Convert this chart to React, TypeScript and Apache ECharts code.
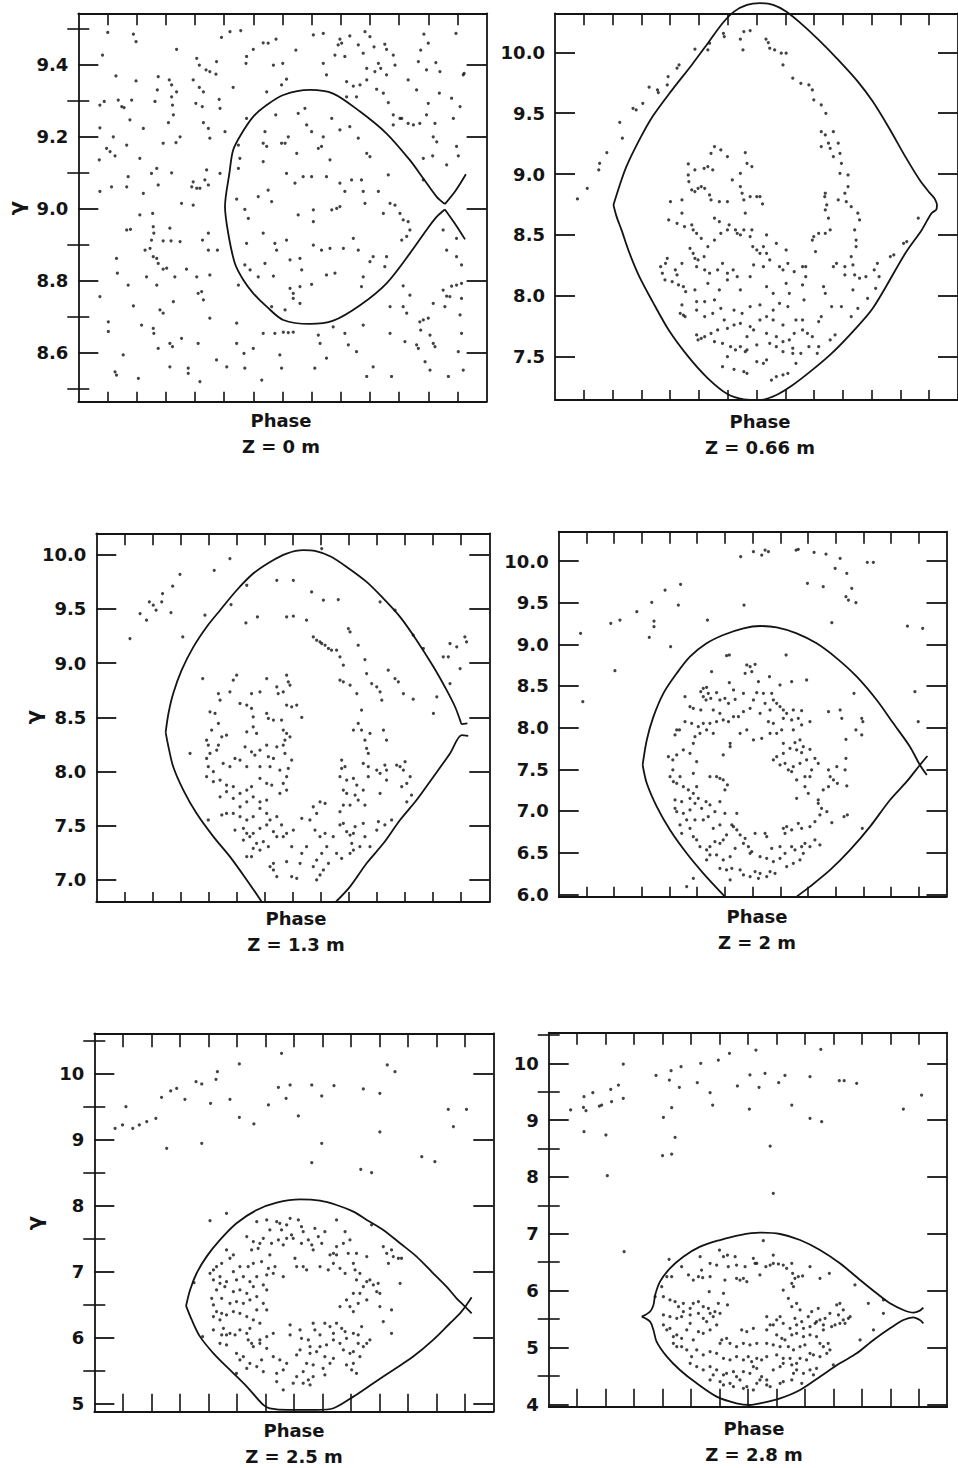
import { useEffect, useRef } from "react";
import * as echarts from "echarts";

// ---------- tick labels / categories ----------
const phaseTicks = [1, 2, 3, 4, 5, 6, 7, 8, 9, 10, 11, 12, 13];
const zLabels = ["Z = 0 m", "Z = 0.66 m", "Z = 1.3 m", "Z = 2 m", "Z = 2.5 m", "Z = 2.8 m"];
const gammaLabel = "γ";
const phaseLabel = "Phase";

const p1Major = [8.6, 8.8, 9.0, 9.2, 9.4];
const p1Minor = [8.5, 8.7, 8.9, 9.1, 9.3, 9.5];
const p2Major = [7.5, 8.0, 8.5, 9.0, 9.5, 10.0];
const p3Major = [7.0, 7.5, 8.0, 8.5, 9.0, 9.5, 10.0];
const p4Major = [6.0, 6.5, 7.0, 7.5, 8.0, 8.5, 9.0, 9.5, 10.0];
const p5Major = [5, 6, 7, 8, 9, 10];
const p5Minor = [5.5, 6.5, 7.5, 8.5, 9.5, 10.5];
const p6Major = [4, 5, 6, 7, 8, 9, 10];
const p6Minor = [4.5, 5.5, 6.5, 7.5, 8.5, 9.5, 10.5];

const p1Range = [8.463, 9.542];
const p2Range = [7.144, 10.32];
const p3Range = [6.797, 10.196];
const p4Range = [5.971, 10.352];
const p5Range = [4.872, 10.618];
const p6Range = [3.958, 10.539];

// ---------- separatrices ----------
const p1SepLoop = [[12.57,9.012],[12.29,9.032],[11.83,9.083],[11.37,9.134],[10.57,9.208],[9.66,9.269],[8.74,9.319],[7.94,9.329],[7.03,9.315],[6.46,9.287],[6.0,9.255],[5.6,9.208],[5.31,9.162],[5.18,9.097],[5.03,9.005],[5.14,8.931],[5.37,8.847],[5.66,8.801],[6.0,8.764],[6.46,8.727],[7.03,8.69],[7.94,8.679],[8.74,8.688],[9.66,8.731],[10.57,8.792],[11.37,8.875],[11.94,8.94],[12.29,8.977],[12.57,8.997]];
const p1SepUpperTip = [[12.57,9.012],[12.91,9.046],[13.29,9.095]];
const p1SepLowerTip = [[12.57,8.997],[12.91,8.958],[13.26,8.914]];

const p2SepUpper = [[2.03,8.746],[2.25,8.91],[2.48,9.061],[2.93,9.28],[3.39,9.472],[4.07,9.691],[4.75,9.896],[5.31,10.074],[5.82,10.238],[6.22,10.334],[6.67,10.389],[7.12,10.403],[7.58,10.389],[8.03,10.334],[8.6,10.225],[9.16,10.101],[9.84,9.937],[10.52,9.759],[11.04,9.595],[11.61,9.376],[12.17,9.143],[12.67,8.951],[13.01,8.847],[13.18,8.801],[13.27,8.754]];
const p2SepLower = [[13.27,8.754],[13.25,8.71],[13.08,8.678],[12.74,8.541],[12.17,8.349],[11.04,7.897],[10.29,7.692],[9.61,7.527],[8.94,7.391],[8.26,7.267],[7.69,7.185],[7.12,7.144],[6.56,7.15],[5.99,7.193],[5.31,7.322],[4.63,7.5],[3.95,7.719],[3.39,7.952],[2.93,8.157],[2.59,8.349],[2.31,8.541],[2.14,8.65],[2.03,8.746]];

const p3SepLeft = [[5.89,6.8],[5.36,7.0],[4.76,7.215],[4.17,7.4],[3.57,7.615],[3.1,7.829],[2.74,8.044],[2.57,8.228],[2.47,8.36]];
const p3SepUpper = [[2.47,8.36],[2.57,8.535],[2.74,8.719],[3.04,8.934],[3.46,9.149],[3.93,9.333],[4.41,9.487],[5.0,9.671],[5.59,9.825],[6.19,9.932],[6.78,10.009],[7.38,10.04],[7.79,10.033],[8.33,9.984],[8.92,9.886],[9.63,9.748],[10.23,9.594],[10.82,9.426],[11.41,9.211],[12.01,8.965],[12.48,8.75],[12.78,8.597],[12.96,8.474],[13.02,8.437],[13.22,8.443]];
const p3SepRight = [[13.25,8.329],[13.02,8.336],[12.6,8.167],[12.01,7.952],[11.41,7.737],[10.82,7.553],[10.23,7.338],[9.63,7.154],[9.04,6.939],[8.54,6.8]];

const p4SepUpper = [[3.03,7.552],[3.18,7.852],[3.42,8.132],[3.78,8.412],[4.26,8.652],[4.74,8.852],[5.34,9.012],[5.94,9.112],[6.67,9.192],[7.27,9.22],[7.87,9.204],[8.59,9.132],[9.31,9.012],[10.04,8.832],[10.76,8.612],[11.48,8.332],[12.08,8.052],[12.68,7.772],[13.04,7.552],[13.29,7.432]];
const p4SepLeft = [[3.03,7.552],[3.18,7.332],[3.54,7.052],[4.02,6.772],[4.62,6.492],[5.22,6.252],[6.0,5.972]];
const p4SepRight = [[8.59,5.972],[9.07,6.092],[9.8,6.292],[10.52,6.532],[11.24,6.812],[11.96,7.132],[12.56,7.352],[13.04,7.552],[13.31,7.66]];

const p5SepUpper = [[3.22,6.478],[3.36,6.721],[3.59,6.974],[3.94,7.227],[4.41,7.48],[4.99,7.733],[5.7,7.935],[6.4,8.047],[7.22,8.097],[7.92,8.077],[8.5,8.011],[9.09,7.91],[9.56,7.784],[10.14,7.632],[10.73,7.429],[11.31,7.227],[11.89,6.974],[12.36,6.771],[12.71,6.594],[13.01,6.468],[13.24,6.366]];
const p5SepLower = [[3.22,6.478],[3.42,6.265],[3.71,6.012],[4.18,5.759],[4.76,5.506],[5.35,5.253],[5.93,4.975],[6.16,4.924],[6.8,4.899],[7.8,4.899],[8.39,4.924],[9.09,5.101],[9.79,5.304],[10.49,5.506],[11.19,5.709],[11.89,5.962],[12.48,6.215],[12.83,6.366],[13.06,6.493],[13.24,6.609]];

const p6SepUpper = [[3.27,5.542],[3.56,5.63],[3.68,5.748],[3.74,5.924],[3.91,6.158],[4.26,6.393],[4.73,6.598],[5.32,6.774],[6.02,6.891],[6.72,6.979],[7.42,7.02],[8.13,6.997],[8.83,6.891],[9.53,6.715],[10.23,6.481],[10.94,6.187],[11.52,5.953],[11.99,5.777],[12.46,5.66],[12.81,5.613],[13.04,5.648],[13.16,5.701]];
const p6SepLower = [[3.27,5.542],[3.56,5.454],[3.68,5.308],[3.79,5.102],[4.15,4.838],[4.61,4.604],[5.2,4.369],[5.9,4.135],[6.6,4.017],[7.07,3.988],[7.42,4.017],[8.13,4.105],[8.83,4.252],[9.53,4.487],[10.23,4.721],[10.82,4.897],[11.41,5.132],[11.99,5.337],[12.46,5.484],[12.81,5.531],[13.04,5.484],[13.16,5.425]];

// ---------- particles ----------
const p1Dots = [[1.01,9.489],[1.89,9.484],[1.98,9.463],[0.83,9.426],[3.37,9.442],[4.06,9.417],[4.91,9.475],[5.2,9.491],[5.57,9.494],[6.0,9.442],[6.34,9.46],[6.51,9.459],[6.78,9.47],[7.46,9.44],[8.06,9.482],[8.4,9.486],[8.97,9.47],[9.03,9.459],[9.31,9.479],[9.6,9.454],[9.83,9.491],[10.0,9.477],[10.14,9.449],[10.51,9.456],[10.57,9.442],[10.8,9.426],[11.85,9.484],[12.0,9.459],[12.95,9.486],[11.74,9.44],[11.66,9.408],[12.26,9.405],[11.94,9.385],[12.4,9.38],[13.2,9.371],[4.51,9.38],[4.72,9.373],[4.38,9.385],[4.15,9.398],[4.74,9.408],[5.77,9.422],[5.75,9.403],[7.01,9.403],[6.69,9.398],[8.4,9.403],[8.8,9.426],[9.14,9.422],[8.91,9.454],[9.77,9.431],[9.89,9.389],[10.29,9.403],[10.37,9.389],[10.17,9.38],[10.57,9.371],[10.86,9.398],[11.31,9.357],[11.6,9.329],
[1.29,9.368],[1.98,9.354],[2.74,9.366],[3.12,9.357],[3.2,9.343],[3.37,9.324],[3.2,9.31],[3.23,9.287],[3.26,9.26],[2.71,9.329],[2.63,9.297],[3.94,9.357],[4.15,9.336],[4.29,9.324],[4.03,9.292],[4.25,9.283],[4.83,9.303],[4.86,9.278],[5.31,9.336],[1.37,9.301],[1.49,9.283],[1.57,9.28],[1.83,9.301],[0.74,9.287],[0.89,9.297],[7.14,9.359],[6.97,9.343],[6.46,9.324],[8.51,9.371],[9.2,9.352],[9.43,9.34],[9.66,9.343],[9.89,9.357],[10.23,9.331],[10.46,9.32],[9.2,9.31],[9.54,9.31],[10.63,9.294],[10.8,9.26],[11.03,9.25],[12.0,9.292],[12.38,9.32],[12.8,9.306],[12.86,9.25],[13.09,9.283],[11.31,9.236],[11.71,9.236],[11.94,9.26],[12.23,9.236],[13.23,9.375],[6.77,9.26],[5.77,9.25],[7.54,9.264],[7.77,9.278],[8.69,9.25],
[0.74,9.224],[1.2,9.199],[0.97,9.167],[1.09,9.158],[1.26,9.146],[0.72,9.135],[1.77,9.246],[1.66,9.176],[2.23,9.222],[2.11,9.139],[2.91,9.181],[3.09,9.238],[3.49,9.199],[3.35,9.183],[4.29,9.238],[4.46,9.222],[4.51,9.195],[5.03,9.213],[6.4,9.213],[6.34,9.181],[6.46,9.172],[6.97,9.181],[7.09,9.181],[7.2,9.199],[8.0,9.213],[7.83,9.232],[8.4,9.199],[8.34,9.172],[8.97,9.218],[9.31,9.227],[9.6,9.195],[9.89,9.153],[10.0,9.144],[7.49,9.153],[8.23,9.167],[8.63,9.135],[6.34,9.13],[5.49,9.176],[5.54,9.139],[10.8,9.232],[11.09,9.25],[11.49,9.232],[12.17,9.199],[12.29,9.185],[11.83,9.139],[12.15,9.146],[12.63,9.121],[12.97,9.172],[13.03,9.146],
[0.74,9.047],[1.14,9.06],[1.66,9.06],[1.71,9.088],[2.23,9.042],[2.51,9.097],[2.69,9.111],[2.74,9.065],[3.2,9.099],[3.94,9.074],[3.89,9.06],[4.06,9.056],[4.17,9.056],[4.34,9.079],[4.4,9.107],[4.46,9.065],[4.86,9.097],[3.54,9.014],[3.94,9.009],[2.11,8.982],[2.55,8.986],[5.49,9.111],[5.43,9.026],[5.71,8.997],[5.83,8.972],[6.17,9.033],[6.51,9.051],[6.63,9.019],[7.14,9.097],[7.43,9.07],[7.71,9.088],[8.0,9.088],[8.51,9.088],[8.97,9.07],[9.14,9.047],[9.37,9.079],[9.71,9.079],[9.77,9.047],[10.29,9.047],[10.63,9.093],[10.69,9.014],[10.86,9.009],[11.03,8.986],[11.14,8.968],[11.31,8.963],[11.37,8.94],[10.46,8.986],[9.83,9.014],[8.06,8.996],[8.69,8.996],[8.86,9.0],[8.97,9.005],[7.54,8.982],[8.06,8.963],[11.83,9.079],
[1.66,8.94],[1.79,8.942],[2.57,8.949],[2.59,8.931],[2.51,8.912],[2.91,8.91],[3.18,8.91],[3.14,8.945],[2.29,8.884],[2.46,8.889],[2.57,8.866],[2.69,8.861],[2.74,8.847],[2.91,8.831],[3.03,8.834],[3.49,8.908],[3.71,8.831],[4.26,8.912],[4.46,8.884],[4.46,8.931],[4.77,8.884],[1.31,8.861],[1.34,8.82],[5.77,8.903],[5.89,8.829],[6.34,8.931],[6.4,8.847],[6.74,8.903],[6.8,8.884],[7.14,8.912],[7.26,8.857],[7.6,8.861],[7.66,8.829],[8.06,8.898],[8.34,8.884],[8.63,8.889],[9.09,8.889],[9.43,8.917],[9.6,8.884],[10.0,8.852],[10.11,8.866],[10.57,8.866],[10.51,8.838],[11.09,8.912],[11.26,8.922],[12.51,8.94],[12.63,8.884],[12.97,8.866],[13.14,8.843],[12.97,8.917],
[1.71,8.787],[2.34,8.81],[2.69,8.787],[3.26,8.741],[3.31,8.81],[4.06,8.81],[4.11,8.764],[4.23,8.769],[4.29,8.746],[4.51,8.815],[0.74,8.755],[1.89,8.729],[2.8,8.718],[2.91,8.709],[5.71,8.843],[5.49,8.787],[6.17,8.81],[6.69,8.812],[7.26,8.778],[7.37,8.764],[7.37,8.75],[7.6,8.783],[8.0,8.789],[8.51,8.815],[8.8,8.82],[9.71,8.783],[9.77,8.81],[7.09,8.718],[7.6,8.736],[6.63,8.727],[11.14,8.785],[11.37,8.759],[10.69,8.727],[11.14,8.727],[11.26,8.709],[12.51,8.773],[12.63,8.756],[12.8,8.784],[12.97,8.787],[13.14,8.792],[13.14,8.75],[12.74,8.755],[12.57,8.727],[12.17,8.736],
[1.03,8.685],[1.03,8.658],[1.54,8.593],[1.26,8.546],[1.31,8.537],[2.06,8.528],[2.17,8.676],[2.57,8.667],[2.59,8.653],[2.74,8.611],[3.14,8.56],[3.23,8.616],[3.54,8.639],[3.14,8.625],[3.77,8.556],[3.77,8.542],[4.11,8.625],[4.17,8.519],[4.51,8.695],[4.74,8.579],[5.09,8.56],[5.43,8.681],[5.43,8.625],[5.68,8.597],[5.71,8.556],[6.0,8.611],[6.29,8.523],[6.34,8.653],[6.74,8.653],[7.03,8.656],[7.2,8.655],[7.37,8.656],[6.97,8.556],[6.91,8.593],[8.11,8.556],[8.23,8.648],[8.29,8.625],[8.51,8.584],[8.74,8.671],[9.14,8.653],[9.26,8.621],[9.54,8.602],[9.77,8.676],[9.89,8.533],[10.11,8.56],[10.69,8.653],[10.74,8.533],[11.2,8.63],[11.6,8.621],[11.66,8.611],[11.71,8.685],[11.83,8.69],[11.74,8.662],[12.0,8.695],[12.06,8.648],[12.17,8.625],[12.23,8.616],[12.06,8.551],[11.89,8.574],[12.69,8.533],[13.03,8.602],[13.2,8.551],[13.14,8.653],[13.09,8.704]];

const p2Dots = [[0.78,8.795],[1.12,8.883],[1.52,9.034],[1.55,9.088],[1.8,9.176],[2.25,9.425],[2.34,9.294],[2.71,9.54],[2.82,9.526],[3.05,9.581],[3.27,9.713],[3.56,9.691],[3.59,9.669],[3.9,9.732],[3.93,9.8],[4.24,9.869],[4.31,9.896],[4.86,10.025],[5.31,10.019],[5.37,10.074],[5.88,10.129],[5.85,10.156],[6.44,10.107],[6.53,10.019],[6.56,10.17],[6.78,10.178],[7.33,10.107],[7.41,10.08],[7.46,10.033],[7.63,10.019],[7.86,9.992],[7.92,9.896],[8.03,9.992],[8.26,9.787],[8.54,9.745],[8.82,9.732],[8.94,9.691],[8.99,9.609],[9.25,9.567],[9.41,9.499],[9.25,9.348],[9.39,9.321],[9.25,9.225],[9.5,9.253],[9.56,9.211],[9.67,9.143],[9.84,9.253],[9.9,9.17],[9.67,9.348],[9.95,9.088],[9.9,9.006],[10.18,8.992],[10.18,8.897],[10.07,8.842],[9.84,8.787],[10.12,8.773],[10.29,8.732],[10.52,8.678],[10.58,8.623],[10.41,8.541],[10.46,8.458],[10.46,8.404],[10.29,8.322],[10.35,8.253],[10.07,8.239],[9.67,8.239],[9.78,8.267],[10.07,8.171],[10.41,8.171],[10.58,8.144],[10.8,8.157],[11.09,8.212],[11.26,8.157],[11.2,8.267],[11.65,8.322],[11.77,8.335],[12.11,8.431],[12.22,8.445],[12.62,8.637],[10.86,7.979],[11.14,8.061],[10.35,8.048],[10.52,7.897],[10.29,7.829],[9.95,7.911],[9.73,7.678],[9.56,7.637],[9.39,8.02],[9.33,8.075],[9.61,7.911],[9.25,7.829],[9.39,8.842],[9.37,8.814],[9.44,8.746],[9.39,8.705],[9.5,8.637],[9.56,8.541],[9.39,8.513],[9.16,8.513],[8.99,8.486],[8.94,8.458],[9.05,8.363],[8.71,8.239],
[5.54,9.225],[5.76,9.198],[5.42,9.17],[5.99,9.143],[6.61,9.176],[6.67,9.088],[6.84,9.061],[6.44,9.006],[4.63,9.083],[4.86,9.034],[5.18,9.047],[5.31,9.061],[5.48,9.034],[4.63,8.992],[4.65,8.938],[4.75,8.869],[4.86,8.856],[4.97,8.883],[5.08,8.897],[5.2,8.883],[5.37,8.828],[5.42,8.787],[5.71,8.773],[5.99,8.773],[6.16,8.951],[6.44,8.897],[6.5,8.842],[6.56,8.787],[6.61,8.678],[6.78,8.814],[7.01,8.814],[7.12,8.814],[7.21,8.754],[4.41,8.787],[4.01,8.773],[4.41,8.678],[3.95,8.623],[4.24,8.595],[4.5,8.568],[4.75,8.582],[4.8,8.541],[4.92,8.513],[5.08,8.472],[4.69,8.39],[4.8,8.349],[4.86,8.308],[4.97,8.294],[5.18,8.322],[5.31,8.404],[5.54,8.458],[5.54,8.637],[5.71,8.609],[5.76,8.513],[5.99,8.541],[6.05,8.582],[6.27,8.541],[6.33,8.513],[6.44,8.5],[6.56,8.541],[6.84,8.541],[6.78,8.486],[6.87,8.404],[7.01,8.376],[7.12,8.349],[7.35,8.349],[7.24,8.404],[7.35,8.5],[7.69,8.431],[8.03,8.376],[8.09,8.267],[8.6,8.239],[8.71,8.157],[8.31,8.198],[7.92,8.212],[7.8,8.239],[7.46,8.294],[7.24,8.239],[6.9,8.253],[6.19,8.212],[5.99,8.185],[5.82,8.267],[5.65,8.212],[5.37,8.185],[5.2,8.212],[4.92,8.239],[4.41,8.267],[4.18,8.212],[4.24,8.171],[4.07,8.116],[3.9,8.308],[3.84,8.267],[3.82,8.13],[3.67,8.239],[3.73,8.185],[4.29,8.089],[4.46,8.075],[4.54,8.034],[4.86,8.048],[5.31,8.102],[5.71,8.048],[5.99,8.13],[6.33,8.157],[6.44,8.048],[6.78,8.157],[7.35,8.075],[7.58,8.02],[8.03,8.102],[8.14,8.02],[8.6,8.089],[8.65,7.966],[7.8,7.938],[7.58,7.883],[7.35,7.829],[7.12,7.925],[6.78,7.911],[6.5,7.856],[6.22,7.883],[5.76,7.897],[5.54,7.966],[5.2,7.952],[4.92,7.952],[4.41,7.925],[4.35,7.856],[4.46,7.842],[4.52,7.829],[4.92,7.883],[5.2,7.829],[5.48,7.856],[5.88,7.801],[6.44,7.774],[6.78,7.747],[7.12,7.801],[7.58,7.801],[7.92,7.76],[8.09,7.911],[8.37,7.801],[8.6,7.801],[8.77,7.692],[8.94,7.664],[9.16,7.788],[9.16,7.582],[8.6,7.719],[8.31,7.692],[8.14,7.637],[7.92,7.623],[7.69,7.664],[7.35,7.692],[6.9,7.719],[6.67,7.664],[6.22,7.76],[5.99,7.733],[5.65,7.719],[5.42,7.692],[5.2,7.664],[4.92,7.678],[4.97,7.637],[5.08,7.651],[5.54,7.623],[5.82,7.61],[6.1,7.582],[6.44,7.582],[6.67,7.555],[7.01,7.596],[7.46,7.61],[7.69,7.582],[7.92,7.541],[8.26,7.569],[8.54,7.527],[8.82,7.582],[9.11,7.527],[5.82,7.418],[5.99,7.5],[6.27,7.555],[6.61,7.541],[6.56,7.377],[6.67,7.363],[7.01,7.459],[7.35,7.473],[7.52,7.308],[7.69,7.336],[7.92,7.35],[8.09,7.363],[8.37,7.445],[8.26,7.527],[7.24,7.445],[6.22,7.396]];

const p3Dots = [[1.2,9.226],[1.56,9.456],[1.79,9.395],[1.89,9.564],[2.03,9.533],[2.13,9.487],[2.33,9.564],[2.36,9.64],[2.66,9.465],[2.72,9.708],[2.98,9.818],[3.08,9.241],[3.34,8.167],[3.79,8.857],[3.87,9.441],[4.2,9.855],[4.76,9.963],[4.8,9.539],[5.36,9.717],[5.33,9.37],[5.74,9.425],[11.65,9.134],[12.13,8.689],[12.01,8.535],[12.36,9.057],[12.54,9.057],[12.6,9.18],[12.84,9.149],[12.96,8.949],[13.13,9.241],[13.19,9.195],[12.6,8.811],[6.43,9.763],[7.02,9.763],[7.67,9.656],[8.09,9.579],[8.62,9.585],[6.78,9.425],[7.02,9.432],[7.49,9.395],[8.03,10.055],[10.11,9.564],[10.64,9.487],[11.29,9.257],[8.98,9.318],[9.04,9.287],[9.33,9.164],
[7.73,9.241],[7.85,9.21],[7.97,9.195],[8.03,9.18],[8.15,9.164],[8.27,9.134],[8.38,9.118],[8.56,9.118],[8.68,9.057],[8.8,8.98],[9.57,9.032],[9.63,8.903],[9.81,8.811],[9.99,8.781],[10.11,8.735],[10.17,8.658],[10.4,8.934],[10.64,8.857],[10.76,8.827],[10.94,8.719],[11.29,8.667],[8.68,8.842],[8.8,8.827],[9.04,8.796],[9.28,8.719],[9.45,8.566],[9.33,8.443],[9.45,8.382],[9.16,8.382],[9.57,8.289],[9.75,8.351],[10.23,8.382],[10.34,8.289],[9.63,8.213],[9.69,8.167],[9.51,8.074],[9.69,8.044],[9.99,8.013],[10.11,7.983],[10.28,8.059],[10.34,8.013],[10.7,8.059],[10.82,8.044],[10.94,8.013],[11.0,8.09],[11.18,7.952],[11.06,7.89],[10.88,7.86],[10.34,7.921],[11.23,7.783],[11.06,7.721],[10.11,7.798],
[5.0,8.888],[4.88,8.842],[4.76,8.735],[5.53,8.719],[5.83,8.735],[6.07,8.857],[6.43,8.781],[6.48,8.719],[6.66,8.735],[6.78,8.888],[6.84,8.827],[6.9,8.796],[6.78,8.612],[6.96,8.596],[7.14,8.612],[7.32,8.498],[4.35,8.719],[4.41,8.658],[4.05,8.55],[4.23,8.535],[4.11,8.382],[4.35,8.443],[4.47,8.32],[4.64,8.335],[5.12,8.627],[5.36,8.612],[5.53,8.581],[6.07,8.535],[6.13,8.489],[6.31,8.474],[6.6,8.474],[6.66,8.382],[6.78,8.351],[6.9,8.32],[6.72,8.289],[5.59,8.504],[5.59,8.412],[5.71,8.351],[5.36,8.366],[5.3,8.228],[5.53,8.182],[5.65,8.151],[5.83,8.197],[6.07,8.243],[6.13,8.136],[6.31,8.12],[6.43,8.228],[6.66,8.243],[6.72,8.167],[6.96,8.105],[6.84,8.028],[6.54,8.013],[6.19,8.044],[5.83,8.044],[5.36,8.044],[5.12,8.105],[4.94,8.12],[4.76,8.044],[4.52,8.074],[4.29,8.197],[4.35,8.243],[3.93,8.289],[3.99,8.243],[4.05,8.167],[3.93,8.12],[3.99,8.044],[4.17,7.998],[4.41,7.921],[4.17,7.906],[3.93,7.952],[4.64,7.875],[4.88,7.86],[5.12,7.798],[5.36,7.829],[5.53,7.86],[5.83,7.936],[6.07,7.89],[6.25,7.875],[6.66,7.89],[6.78,7.952],[6.78,7.829],[6.54,7.798],[6.07,7.737],[5.83,7.721],[5.59,7.767],[5.36,7.721],[5.12,7.675],[4.88,7.752],[4.64,7.814],[4.41,7.767],[3.99,7.553],[4.47,7.599],[4.64,7.614],[4.88,7.614],[5.12,7.584],[5.36,7.553],[5.59,7.584],[5.83,7.66],[6.07,7.614],[6.19,7.553],[6.43,7.584],[6.6,7.507],[6.78,7.43],[6.66,7.399],[6.43,7.399],[6.31,7.445],[6.07,7.507],[5.83,7.476],[5.59,7.43],[5.36,7.43],[5.24,7.476],[4.94,7.46],[5.24,7.368],[5.47,7.399],[5.71,7.338],[5.95,7.353],[6.13,7.307],[5.83,7.276],[5.59,7.292],[5.36,7.215],[5.53,7.215],[6.31,7.154],[6.31,7.092],[6.43,7.031],[6.19,7.123],[6.78,7.169],[6.96,7.031],[7.14,7.015],[7.26,7.154],[7.32,7.246],[7.49,7.307],[6.96,7.307],[7.02,7.46],[7.32,7.568],[7.73,7.675],[7.97,7.721],[8.15,7.706],[7.85,7.614],[7.61,7.553],[7.79,7.46],[7.97,7.399],[8.15,7.43],[8.21,7.307],[8.03,7.246],[7.85,7.184],[7.73,7.123],[7.85,7.0],[7.97,7.046],[8.09,7.092],[8.27,7.154],[8.44,7.399],[8.56,7.246],[8.74,7.199],[8.68,7.507],[8.8,7.522],[8.92,7.445],[9.04,7.414],[9.16,7.43],[9.22,7.491],[9.1,7.338],[9.16,7.276],[9.04,7.246],[9.39,7.307],[9.57,7.399],[9.75,7.307],[9.99,7.46],[10.05,7.537],[10.28,7.507],[10.52,7.553],[9.51,7.522],[8.68,7.629],[8.8,7.691],[9.04,7.691],[9.33,7.737],[9.57,7.691],[9.51,7.829],[9.28,7.875],[9.16,7.936],[8.92,7.921],[8.68,7.952],[8.74,8.028],[8.74,8.105],[8.86,8.044],[8.8,7.829],[8.92,7.798],[9.22,7.783],[9.69,7.952]];

const p4Dots = [[0.79,9.132],[0.87,8.312],[1.88,9.252],[2.21,9.292],[2.03,8.684],[2.82,9.392],[3.27,9.084],[3.36,9.504],[3.44,9.28],[3.44,9.212],[3.84,9.652],[4.04,8.972],[4.32,9.472],[4.4,9.72],[5.37,9.292],[6.57,10.052],[6.69,9.472],[7.03,10.112],[7.33,10.072],[7.45,10.132],[7.57,10.112],[8.57,10.132],[8.65,10.14],[8.98,9.732],[9.22,10.104],[9.55,9.692],[9.65,10.084],[9.86,9.26],[9.98,9.912],[10.16,10.032],[10.4,9.852],[10.37,9.572],[10.58,9.672],[10.46,9.532],[10.73,9.5],[11.14,9.984],[11.36,9.984],[12.59,9.22],[13.14,9.192],[12.86,8.432],[12.98,8.072],[8.21,8.872],[10.66,8.412],[9.74,8.192],[10.16,8.212],[10.22,8.112],[10.94,8.112],[10.98,8.072],[10.73,7.972],[10.94,7.912],[10.37,7.86],[10.37,7.632],[10.34,7.492],[10.4,7.3],[10.42,6.952],[10.3,6.932],[10.96,6.792],
[6.06,8.864],[6.16,8.872],[5.52,8.672],[6.79,8.752],[6.91,8.732],[7.09,8.76],[6.73,8.652],[6.97,8.672],[7.21,8.552],[7.61,8.612],[7.99,8.512],[8.41,8.552],[8.95,8.572],[6.16,8.54],[5.22,8.472],[5.34,8.484],[5.13,8.432],[5.22,8.372],[6.31,8.452],[4.56,8.372],[4.74,8.252],[4.86,8.232],[5.13,8.212],[5.32,8.332],[5.4,8.412],[5.49,8.352],[5.58,8.212],[5.7,8.42],[5.82,8.332],[6.0,8.352],[6.13,8.292],[6.37,8.34],[5.82,8.172],[6.31,8.132],[6.67,8.412],[7.03,8.332],[7.15,8.42],[7.39,8.412],[7.45,8.292],[7.69,8.412],[7.75,8.332],[7.87,8.292],[7.99,8.252],[8.11,8.212],[8.23,8.172],[8.47,8.212],[8.77,8.204],[7.63,8.212],[7.27,8.172],[6.91,8.232],[6.67,8.192],[6.49,8.132],[6.13,8.072],[5.94,8.092],[5.7,8.072],[5.46,8.052],[5.22,8.052],[5.04,8.012],[4.8,8.052],[4.56,8.072],[4.26,7.972],[4.2,7.912],[4.36,7.972],[7.57,8.072],[7.75,8.052],[8.11,8.112],[8.41,8.092],[8.65,8.112],[9.07,8.072],[8.77,8.032],[8.47,7.972],[8.05,7.972],[7.87,7.932],[7.63,7.932],[7.33,7.872],[7.03,7.852],[6.79,7.972],[6.55,7.932],[6.19,7.812],[5.94,7.672],[6.19,7.772],[5.58,7.932],[5.34,7.972],[5.1,7.932],[4.92,7.892],[4.86,7.812],[4.74,7.692],[4.5,7.732],[4.26,7.672],[4.12,7.612],[3.96,7.652],[8.11,7.812],[8.53,7.82],[8.71,7.852],[8.83,7.772],[9.07,7.74],[8.77,7.7],[8.59,7.732],[8.35,7.752],[8.11,7.692],[7.87,7.652],[7.75,7.612],[7.99,7.552],[8.17,7.572],[8.29,7.492],[8.47,7.532],[8.71,7.572],[8.95,7.612],[9.25,7.632],[9.37,7.572],[9.13,7.492],[8.89,7.412],[8.59,7.372],[8.41,7.472],[4.12,7.492],[4.02,7.412],[4.14,7.352],[4.26,7.332],[4.38,7.412],[4.5,7.292],[4.68,7.252],[4.86,7.212],[4.98,7.292],[5.04,7.152],[4.74,7.152],[4.2,7.132],[4.44,7.112],[4.86,7.452],[4.98,7.592],[5.46,7.412],[5.7,7.412],[5.82,7.392],[5.94,7.372],[6.09,7.312],[6.0,7.252],[8.59,7.152],[8.89,7.292],[9.01,7.212],[9.07,7.412],[9.37,7.132],[9.55,7.252],[9.74,7.292],[9.8,7.412],[9.92,7.372],[9.74,7.492],[10.04,7.532],[10.06,7.332],[4.2,7.032],[4.26,6.992],[4.5,6.972],[4.62,6.892],[4.74,7.012],[4.92,7.092],[5.16,7.032],[5.32,7.112],[5.46,7.072],[5.64,6.992],[5.82,7.112],[6.0,6.972],[6.25,6.832],[6.43,6.972],[8.11,6.792],[8.17,6.732],[8.23,6.812],[8.41,6.772],[8.65,6.852],[8.77,6.792],[9.07,6.812],[9.25,6.872],[9.37,7.092],[9.43,6.952],[9.49,7.032],[9.68,6.992],[9.86,6.86],[4.38,6.832],[4.74,6.792],[4.92,6.892],[5.22,6.892],[5.4,6.932],[5.58,6.792],[5.82,6.832],[4.44,6.732],[4.86,6.692],[4.98,6.652],[5.1,6.572],[5.34,6.532],[5.46,6.572],[5.64,6.632],[5.82,6.612],[5.94,6.652],[6.06,6.712],[6.31,6.812],[6.43,6.772],[6.55,6.712],[6.73,6.672],[6.85,6.572],[6.97,6.512],[7.09,6.732],[7.45,6.732],[7.51,6.692],[7.69,6.552],[7.99,6.572],[8.17,6.492],[8.41,6.572],[8.53,6.532],[8.77,6.572],[8.89,6.612],[9.07,6.572],[9.25,6.652],[9.43,6.592],[8.83,6.492],[8.71,6.412],[8.47,6.372],[8.23,6.332],[7.99,6.432],[7.75,6.392],[7.51,6.432],[7.27,6.452],[6.91,6.492],[6.67,6.612],[6.37,6.552],[6.19,6.452],[5.94,6.412],[5.7,6.472],[5.46,6.472],[5.34,6.412],[5.82,6.312],[6.06,6.292],[6.25,6.312],[6.55,6.292],[6.67,6.232],[6.91,6.212],[7.09,6.272],[7.27,6.252],[7.51,6.212],[7.63,6.272],[7.81,6.252],[7.21,6.192],[6.19,6.172],[4.86,6.192],[4.62,6.092]];

const p5Dots = [[0.73,9.175],[0.99,9.226],[1.11,9.504],[1.35,9.175],[1.58,9.226],[1.84,9.277],[2.16,9.327],[2.36,9.646],[2.54,8.872],[2.68,9.742],[2.89,9.783],[3.18,9.616],[3.57,9.884],[3.77,9.848],[3.77,8.948],[4.08,9.555],[4.27,9.919],[4.32,10.036],[4.76,9.616],[5.09,10.152],[5.09,9.342],[5.6,9.241],[6.11,9.53],[6.46,9.798],[6.57,10.314],[6.73,9.631],[6.87,9.833],[7.16,9.363],[7.63,9.833],[7.98,9.666],[7.98,8.948],[7.63,8.654],[8.41,9.823],[9.44,9.773],[9.35,8.553],[9.73,8.502],[10.02,9.707],[10.02,9.12],[10.28,10.137],[10.55,10.036],[11.49,8.745],[11.95,8.669],[12.42,9.464],[12.6,9.201],[13.06,9.464],[4.06,7.773],[4.64,7.885],[3.5,6.832],[3.8,6.012],
[5.7,7.758],[6.05,7.784],[6.16,7.632],[6.4,7.758],[6.51,7.733],[6.57,7.632],[6.75,7.708],[6.87,7.809],[6.92,7.556],[7.16,7.784],[7.27,7.682],[7.33,7.606],[6.98,7.505],[6.75,7.505],[6.46,7.48],[6.22,7.429],[5.93,7.505],[5.81,7.429],[5.58,7.455],[5.35,7.531],[5.52,7.328],[5.75,7.353],[6.16,7.252],[6.63,7.404],[7.27,7.429],[7.51,7.48],[7.74,7.657],[7.86,7.531],[8.09,7.606],[8.5,7.784],[8.8,7.606],[8.97,7.48],[8.74,7.429],[8.5,7.379],[7.98,7.429],[7.63,7.404],[7.68,7.328],[8.27,7.252],[8.39,7.277],[8.5,7.252],[8.91,7.277],[9.2,7.277],[9.09,7.126],[9.56,7.227],[9.73,7.708],[10.14,7.379],[10.26,7.277],[10.43,7.328],[10.49,7.227],[10.32,7.126],[10.67,7.202],[10.78,7.202],[10.73,6.822],[4.64,7.328],[4.88,7.252],[4.76,7.202],[4.47,7.126],[4.29,7.075],[4.18,7.024],[4.06,6.974],[4.41,6.923],[4.64,6.847],[4.88,6.999],[5.11,7.075],[5.4,7.075],[5.58,7.126],[5.87,7.151],[6.11,7.05],[6.05,6.948],[6.28,6.974],[6.34,7.075],[6.63,6.923],[5.7,6.923],[5.46,6.847],[5.23,6.923],[4.99,6.873],[4.58,6.771],[4.41,6.822],[4.18,6.873],[7.04,7.202],[7.1,7.075],[7.33,7.075],[7.45,7.024],[7.92,7.075],[8.21,7.024],[8.39,7.126],[8.62,7.05],[8.8,6.974],[9.15,7.024],[9.32,6.974],[9.2,6.873],[9.44,6.771],[9.56,6.847],[9.67,6.873],[9.79,6.797],[9.96,6.822],[9.91,6.695],[10.02,6.67],[9.32,6.67],[9.09,6.67],[8.85,6.569],[8.62,6.468],[8.97,6.468],[9.09,6.392],[9.26,6.518],[9.56,6.569],[10.02,6.468],[10.43,6.417],[4.29,6.721],[4.88,6.695],[5.11,6.721],[5.35,6.67],[5.58,6.771],[5.93,6.797],[6.05,6.721],[5.7,6.62],[5.46,6.569],[5.23,6.518],[4.99,6.544],[4.76,6.518],[4.47,6.594],[4.12,6.594],[4.18,6.493],[4.29,6.392],[4.47,6.366],[4.64,6.341],[4.88,6.392],[5.11,6.366],[5.35,6.316],[5.7,6.417],[6.05,6.417],[5.93,6.518],[4.18,6.316],[4.41,6.265],[4.53,6.139],[4.76,6.063],[5.11,6.113],[5.35,6.063],[5.46,6.139],[5.58,6.265],[5.81,6.215],[4.18,6.113],[4.47,6.037],[4.64,6.037],[4.94,6.037],[5.4,5.961],[5.52,5.911],[5.81,5.961],[6.05,6.012],[6.28,6.063],[6.87,6.189],[6.87,6.037],[7.22,6.113],[7.27,5.987],[7.51,5.961],[7.68,6.215],[7.74,6.113],[7.92,6.037],[8.09,6.215],[8.27,6.164],[8.39,6.063],[8.5,6.215],[8.68,6.139],[8.8,6.088],[8.85,5.987],[9.09,6.063],[9.26,6.037],[9.38,6.164],[9.67,5.961],[10.14,6.24],[10.43,6.063],[4.41,5.911],[4.64,5.886],[4.99,5.759],[5.23,5.708],[5.58,5.86],[5.81,5.911],[6.05,5.835],[6.28,5.708],[6.51,5.658],[6.75,5.607],[7.1,5.734],[7.22,5.81],[7.57,5.86],[7.8,5.784],[7.92,5.86],[8.15,5.886],[8.39,5.961],[8.62,5.911],[8.74,5.81],[8.97,5.759],[9.09,5.784],[9.26,5.911],[9.44,5.86],[9.56,5.911],[9.32,5.708],[8.85,5.582],[9.09,5.607],[9.2,5.455],[9.03,5.506],[7.57,5.759],[8.09,5.708],[8.27,5.607],[8.39,5.683],[8.03,5.531],[7.68,5.582],[7.45,5.607],[7.33,5.481],[7.1,5.405],[6.98,5.304],[7.33,5.304],[7.51,5.354],[7.68,5.405],[8.09,5.43],[7.57,5.278],[6.63,5.506],[6.4,5.455],[6.4,5.329],[6.63,5.202],[5.93,5.481],[5.7,5.557],[5.46,5.607],[5.35,5.531],[5.11,5.658],[4.99,5.455],[5.87,5.658]];

const p6Dots = [[0.77,9.179],[1.24,9.413],[1.22,9.225],[1.31,9.167],[1.24,8.797],[1.55,9.483],[1.78,9.249],[1.86,9.266],[2.01,8.739],[2.06,8.023],[2.18,9.542],[2.21,9.325],[2.45,9.618],[2.62,9.384],[2.62,9.988],[2.65,6.686],[3.77,9.788],[4.03,9.05],[4.24,9.706],[4.3,9.871],[4.32,9.22],[4.44,8.698],[4.0,8.375],[4.32,8.404],[4.59,9.577],[4.65,9.941],[5.22,9.659],[5.34,10.0],[5.67,9.483],[5.76,9.266],[5.96,10.058],[6.35,10.176],[6.63,9.601],[7.05,9.196],[7.07,9.795],[7.28,10.234],[7.39,9.577],[7.6,9.824],[7.78,8.545],[7.89,7.712],[8.08,9.659],[8.3,9.788],[8.54,9.266],[9.18,9.765],[9.18,9.032],[9.59,8.973],[9.56,10.246],[10.21,9.695],[10.38,9.695],[10.82,9.648],[12.46,9.196],[13.1,9.442],[4.23,6.551],
[6.0,6.715],[6.14,6.598],[6.28,6.627],[6.55,6.598],[7.19,6.569],[7.54,6.879],[7.89,6.627],[7.25,6.481],[6.9,6.422],[6.6,6.451],[6.31,6.422],[5.9,6.451],[5.67,6.481],[5.32,6.598],[5.37,6.363],[4.91,6.276],[4.67,6.422],[4.32,6.246],[4.15,6.246],[5.08,6.187],[5.26,6.246],[5.41,6.228],[5.64,5.982],[5.67,6.246],[6.6,6.217],[6.72,6.187],[6.84,6.217],[6.96,6.158],[6.19,6.187],[7.31,6.481],[7.42,6.276],[7.63,6.422],[7.78,6.451],[7.89,6.481],[8.07,6.469],[8.24,6.451],[8.36,6.393],[8.54,6.481],[8.57,6.305],[8.65,6.217],[8.77,6.246],[8.92,6.258],[8.54,6.129],[8.6,6.07],[9.18,6.422],[9.53,6.217],[9.86,6.305],[10.76,6.1],[3.74,5.894],[3.97,6.07],[4.03,5.894],[4.26,5.836],[4.44,5.806],[4.56,5.718],[4.73,5.777],[4.73,5.63],[4.97,5.689],[5.08,5.777],[5.26,5.806],[5.43,5.718],[5.61,5.689],[5.67,5.601],[5.84,5.63],[5.96,5.777],[6.14,5.953],[6.28,5.748],[4.03,5.572],[4.26,5.542],[4.5,5.513],[4.67,5.542],[4.97,5.572],[5.26,5.601],[5.43,5.513],[5.55,5.454],[5.78,5.542],[6.02,5.601],[8.24,6.011],[8.42,5.865],[8.54,5.718],[8.71,5.777],[8.83,5.66],[8.65,5.513],[8.89,5.454],[9.12,5.542],[9.24,5.63],[9.36,5.425],[9.47,5.689],[9.53,5.484],[9.71,5.513],[9.88,5.601],[10.12,5.748],[10.23,5.777],[10.35,5.66],[10.18,5.572],[10.35,5.484],[10.53,5.513],[10.59,5.542],[10.41,5.425],[10.23,5.425],[10.06,5.396],[9.94,5.366],[9.65,5.396],[9.41,5.454],[9.18,5.366],[8.95,5.337],[8.71,5.396],[8.48,5.337],[8.24,5.425],[8.13,5.542],[8.01,5.484],[7.78,5.396],[7.66,5.542],[11.23,5.777],[11.76,5.836],[11.76,5.601],[11.41,5.308],[10.94,5.132],[9.65,5.308],[4.03,5.396],[4.15,5.308],[4.26,5.337],[4.38,5.19],[4.5,5.22],[4.67,5.161],[4.85,5.308],[4.97,5.425],[5.08,5.132],[5.26,5.278],[5.43,5.249],[5.67,5.308],[5.9,5.396],[6.08,5.132],[6.02,5.073],[6.25,5.161],[6.37,5.073],[6.6,5.014],[6.78,5.308],[6.96,5.278],[7.19,5.337],[7.66,5.308],[7.89,5.396],[8.01,5.22],[8.19,5.161],[8.3,5.132],[8.54,5.22],[8.71,5.249],[8.95,5.19],[9.18,5.22],[9.41,5.19],[9.53,5.073],[9.65,5.014],[9.82,5.073],[9.88,4.956],[9.77,4.897],[9.53,4.838],[9.0,5.044],[8.83,5.014],[8.6,4.956],[8.42,5.014],[8.13,5.014],[7.89,5.044],[7.66,5.073],[7.31,5.073],[7.07,5.044],[6.84,5.073],[4.38,5.073],[4.5,5.014],[4.67,5.014],[4.85,4.956],[5.02,4.838],[5.2,4.956],[5.43,4.868],[5.67,4.926],[5.9,4.897],[6.14,4.809],[6.37,4.78],[6.6,4.838],[6.84,4.78],[7.01,4.838],[7.13,4.751],[7.31,4.809],[7.48,4.78],[7.66,4.838],[8.01,4.868],[8.24,4.809],[8.48,4.809],[8.71,4.721],[8.83,4.809],[9.06,4.78],[9.18,4.897],[9.3,4.868],[10.0,4.692],[4.97,4.721],[5.2,4.662],[5.43,4.604],[5.67,4.662],[5.9,4.604],[6.14,4.516],[6.25,4.545],[6.49,4.575],[6.6,4.487],[6.72,4.428],[6.84,4.575],[7.07,4.545],[7.19,4.662],[7.31,4.633],[7.48,4.487],[7.66,4.428],[7.89,4.604],[8.13,4.662],[8.24,4.721],[8.54,4.692],[8.71,4.604],[8.95,4.545],[9.18,4.604],[9.3,4.516],[9.41,4.633],[5.78,4.516],[5.67,4.428],[6.02,4.399],[6.14,4.34],[6.37,4.369],[6.49,4.311],[6.84,4.282],[6.96,4.311],[7.19,4.252],[7.31,4.369],[7.42,4.428],[7.66,4.34],[7.78,4.311],[8.13,4.369],[8.24,4.399],[8.54,4.428],[8.6,4.545],[8.89,4.369]];

// ---------- panel assembly ----------
const panels = [
  { dots: p1Dots, seps: [p1SepLoop, p1SepUpperTip, p1SepLowerTip], major: p1Major, minor: p1Minor, range: p1Range, decimals: 1 },
  { dots: p2Dots, seps: [p2SepUpper, p2SepLower], major: p2Major, minor: [], range: p2Range, decimals: 1 },
  { dots: p3Dots, seps: [p3SepLeft, p3SepUpper, p3SepRight], major: p3Major, minor: [], range: p3Range, decimals: 1 },
  { dots: p4Dots, seps: [p4SepUpper, p4SepLeft, p4SepRight], major: p4Major, minor: [], range: p4Range, decimals: 1 },
  { dots: p5Dots, seps: [p5SepUpper, p5SepLower], major: p5Major, minor: p5Minor, range: p5Range, decimals: 0 },
  { dots: p6Dots, seps: [p6SepUpper, p6SepLower], major: p6Major, minor: p6Minor, range: p6Range, decimals: 0 },
];

const layout = [
  { left: 78.3, top: 13.3, width: 408.3, height: 388.4, cx: 281, phaseY: 420, zY: 446, gamma: [17, 208], topTick: 12, botTick: 10, clip: true },
  { left: 555, top: 13.3, width: 412, height: 386.7, cx: 760, phaseY: 421, zY: 447, gamma: null, topTick: 12, botTick: 10, clip: false },
  { left: 96.3, top: 533.3, width: 393, height: 368.7, cx: 296, phaseY: 918, zY: 944, gamma: [34, 717], topTick: 12, botTick: 10, clip: true },
  { left: 558.7, top: 531.7, width: 387.8, height: 365, cx: 757, phaseY: 916, zY: 942, gamma: null, topTick: 12, botTick: 10, clip: true },
  { left: 94.3, top: 1033.3, width: 399, height: 378.4, cx: 294, phaseY: 1430, zY: 1456, gamma: [35, 1223], topTick: 14, botTick: 18, clip: true },
  { left: 548.7, top: 1032.7, width: 398.5, height: 374, cx: 754, phaseY: 1428, zY: 1454, gamma: null, topTick: 12, botTick: 18, clip: true },
];

const INK = "#141414";
const FONT = "DejaVu Sans";

function buildOption() {
  const grid: any[] = [];
  const xAxis: any[] = [];
  const yAxis: any[] = [];
  const series: any[] = [];
  const graphic: any[] = [];

  panels.forEach((p, i) => {
    const L = layout[i];
    grid.push({ left: L.left, top: L.top, width: L.width, height: L.height, containLabel: false });
    const line = { show: true, onZero: false, lineStyle: { color: INK, width: 1.8 } };
    const xBase = { gridIndex: i, type: "value", min: 0, max: 14, interval: 1, axisLabel: { show: false }, splitLine: { show: false }, axisLine: line };
    xAxis.push({ ...xBase, position: "bottom", axisTick: { show: true, inside: true, length: L.botTick, customValues: phaseTicks, lineStyle: { color: INK, width: 1.6 } } });
    xAxis.push({ ...xBase, position: "top", axisTick: { show: true, inside: true, length: L.topTick, customValues: phaseTicks, lineStyle: { color: INK, width: 1.6 } } });

    const yBase = { gridIndex: i, type: "value", min: p.range[0], max: p.range[1], splitLine: { show: false } };
    const fmt = (v: number) => (p.decimals ? v.toFixed(1) : String(Math.round(v)));
    yAxis.push({
      ...yBase, position: "left", axisLine: line,
      axisTick: { show: true, inside: true, length: 20, customValues: p.major, lineStyle: { color: INK, width: 1.8 } },
      axisLabel: { show: true, customValues: p.major, formatter: fmt, margin: 10, fontFamily: FONT, fontWeight: "bold", fontSize: 18, color: INK },
    });
    yAxis.push({
      ...yBase, position: "left", axisLine: { show: false },
      axisTick: { show: p.minor.length > 0, inside: true, length: 11, customValues: p.minor.length ? p.minor : p.major, lineStyle: { color: INK, width: 1.6 } },
      axisLabel: { show: false },
    });
    yAxis.push({
      ...yBase, position: "right", axisLine: line,
      axisTick: { show: true, inside: true, length: 20, customValues: p.major, lineStyle: { color: INK, width: 1.8 } },
      axisLabel: { show: false },
    });
    yAxis.push({
      ...yBase, position: "right", axisLine: { show: false },
      axisTick: { show: p.minor.length > 0, inside: true, length: 11, customValues: p.minor.length ? p.minor : p.major, lineStyle: { color: INK, width: 1.6 } },
      axisLabel: { show: false },
    });

    series.push({
      type: "scatter", xAxisIndex: 2 * i, yAxisIndex: 4 * i, data: p.dots,
      symbol: "circle", symbolSize: 3.2, itemStyle: { color: INK }, silent: true,
    });
    p.seps.forEach((s) => {
      series.push({
        type: "line", xAxisIndex: 2 * i, yAxisIndex: 4 * i, data: s,
        showSymbol: false, symbol: "none", smooth: 0.3, clip: L.clip,
        lineStyle: { color: INK, width: 1.8 }, silent: true,
      });
    });

    graphic.push({ type: "text", x: L.cx, y: L.phaseY, style: { text: phaseLabel, fill: INK, font: `bold 18px "${FONT}"`, align: "center", verticalAlign: "middle" } });
    graphic.push({ type: "text", x: L.cx, y: L.zY, style: { text: zLabels[i], fill: INK, font: `bold 18px "${FONT}"`, align: "center", verticalAlign: "middle" } });
    if (L.gamma) {
      graphic.push({ type: "text", x: L.gamma[0], y: L.gamma[1], rotation: Math.PI / 2, style: { text: gammaLabel, fill: INK, font: `bold 21px "${FONT}"`, align: "center", verticalAlign: "middle" } });
    }
  });

  return { animation: false, backgroundColor: "#ffffff", grid, xAxis, yAxis, series, graphic };
}

export default function App() {
  const ref = useRef<HTMLDivElement>(null);
  useEffect(() => {
    document.body.style.margin = "0";
    const chart = echarts.init(ref.current!, null, { renderer: "svg" });
    chart.setOption(buildOption() as any);
    return () => chart.dispose();
  }, []);
  return <div ref={ref} style={{ width: 958, height: 1468, background: "#fff" }} />;
}
